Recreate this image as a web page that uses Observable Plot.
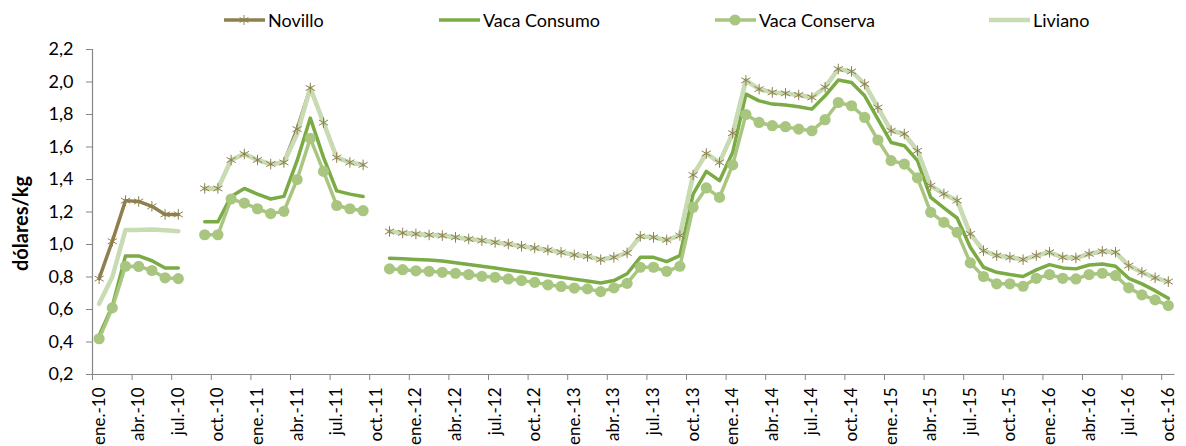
<!DOCTYPE html>
<html>
<head>
<meta charset="utf-8">
<script src="https://cdn.jsdelivr.net/npm/d3@7"></script>
<script src="https://cdn.jsdelivr.net/npm/@observablehq/plot@0.6"></script>
<style>
  html, body { margin: 0; padding: 0; background: #fff; }
  #legend { position: relative; width: 1186px; height: 36px; font-family: Lato, sans-serif; font-size: 18px; color: #000; }
  .item { position: absolute; top: 9px; height: 22px; display: flex; align-items: center; white-space: nowrap; }
  .item svg { margin-right: 3px; }
</style>
</head>
<body>
<div id="legend"></div>
<div id="chart"></div>
<script>
// Tick labels shown on the category axis (every 3rd month, ene.-10 ... oct.-16)
const tickLabels = [
  "ene.-10","abr.-10","jul.-10","oct.-10",
  "ene.-11","abr.-11","jul.-11","oct.-11",
  "ene.-12","abr.-12","jul.-12","oct.-12",
  "ene.-13","abr.-13","jul.-13","oct.-13",
  "ene.-14","abr.-14","jul.-14","oct.-14",
  "ene.-15","abr.-15","jul.-15","oct.-15",
  "ene.-16","abr.-16","jul.-16","oct.-16"
];
const monthNames = ["ene","feb","mar","abr","may","jun","jul","ago","sep","oct","nov","dic"];
const years = ["10","11","12","13","14","15","16"];
const seriesNames = ["Novillo","Vaca Consumo","Vaca Conserva","Liviano"];
const yTicks = [0.2,0.4,0.6,0.8,1.0,1.2,1.4,1.6,1.8,2.0,2.2];

// Monthly values, ene-10 ... oct-16 (null = no data)
const novillo = [
  0.79,1.02,1.27,1.265,1.235,1.185,1.185,null,
  1.345,1.345,1.52,1.557,1.52,1.495,1.505,1.71,1.963,1.75,1.535,1.505,1.49,null,
  1.08,1.071,1.065,1.059,1.055,1.044,1.034,1.024,1.013,1.003,0.989,0.979,0.966,0.952,0.936,0.927,0.907,0.921,0.948,1.05,1.044,1.028,1.055,1.428,1.56,1.505,1.685,2.01,1.956,1.936,
  1.93,1.92,1.905,1.968,2.08,2.065,1.987,1.843,1.70,1.68,1.577,1.362,1.311,1.27,1.065,0.962,0.932,0.921,0.907,0.932,0.952,0.921,0.917,0.942,0.958,0.952,0.87,0.829,0.795,0.772
];
const vacaConsumo = [
  0.44,0.62,0.93,0.93,0.90,0.855,0.855,null,
  1.14,1.14,1.296,1.345,1.31,1.28,1.296,1.516,1.778,1.536,1.33,1.31,1.295,null,
  0.916,0.912,0.908,0.904,0.899,0.888,0.877,0.866,0.855,0.843,0.832,0.821,0.81,0.798,0.787,0.775,0.763,0.778,0.82,0.921,0.921,0.895,0.932,1.31,1.45,1.393,1.567,1.925,1.884,1.864,
  1.858,1.848,1.833,1.915,2.012,1.997,1.915,1.772,1.628,1.608,1.516,1.29,1.225,1.163,0.983,0.86,0.829,0.815,0.803,0.844,0.876,0.856,0.85,0.874,0.88,0.866,0.792,0.758,0.716,0.669
];
const vacaConserva = [
  0.42,0.61,0.866,0.865,0.84,0.795,0.79,null,
  1.06,1.06,1.28,1.255,1.22,1.19,1.204,1.40,1.653,1.45,1.24,1.22,1.208,null,
  0.85,0.845,0.838,0.835,0.829,0.823,0.815,0.804,0.798,0.788,0.778,0.767,0.752,0.742,0.732,0.727,0.71,0.733,0.761,0.86,0.86,0.835,0.866,1.229,1.348,1.29,1.49,1.80,1.751,1.731,
  1.725,1.71,1.70,1.768,1.874,1.854,1.782,1.643,1.516,1.495,1.41,1.198,1.136,1.075,0.887,0.803,0.758,0.758,0.743,0.792,0.815,0.792,0.788,0.815,0.823,0.809,0.733,0.69,0.659,0.624
];
const liviano = [
  0.635,0.80,1.09,1.09,1.092,1.087,1.082,null,
  1.345,1.345,1.52,1.557,1.52,1.495,1.505,1.68,1.963,1.75,1.535,1.505,1.49,null,
  1.08,1.071,1.065,1.059,1.055,1.044,1.034,1.024,1.013,1.003,0.989,0.979,0.966,0.952,0.936,0.927,0.907,0.921,0.948,1.05,1.044,1.028,1.055,1.428,1.56,1.505,1.685,2.01,1.956,1.936,
  1.93,1.92,1.905,1.968,2.08,2.065,1.987,1.843,1.70,1.68,1.577,1.362,1.311,1.27,1.065,0.962,0.932,0.921,0.907,0.932,0.952,0.921,0.917,0.942,0.958,0.952,0.87,0.829,0.795,0.772
];

const colors = { novillo: "#8e7f4e", consumo: "#7aab45", conserva: "#a9c680", liviano: "#c8dbb3" };

const months = years.flatMap(y => monthNames.map(m => `${m}.-${y}`)).slice(0, 82);
const rows = (vals) => months.map((m, i) => ({ i: i + 0.5, month: m, v: vals[i] }));
const rNov = rows(novillo), rCon = rows(vacaConsumo), rCons = rows(vacaConserva), rLiv = rows(liviano);
const defined = r => r.filter(d => d.v != null);

const tickPos = tickLabels.map((_, k) => 3 * k);
const labelPos = tickLabels.map((_, k) => 3 * k + 0.5);
const fmt = d => d.toFixed(1).replace(".", ",");

const chart = Plot.plot({
  width: 1186,
  height: 410,
  marginLeft: 92,
  marginRight: 11.6,
  marginTop: 13,
  marginBottom: 72,
  style: { fontFamily: "Lato, sans-serif", fontSize: "18px", color: "#000", background: "#fff" },
  x: { type: "linear", domain: [0, months.length], axis: null },
  y: { domain: [0.2, 2.2], axis: null },
  marks: [
    Plot.axisY({ ticks: yTicks, tickFormat: fmt, tickSize: 6, tickPadding: 13, stroke: "#868686", fontSize: 18, color: "#000", label: null }),
    Plot.axisX({ ticks: tickPos, tickFormat: () => "", tickSize: 6, stroke: "#868686", label: null }),
    Plot.axisX({ ticks: labelPos, tickFormat: d => tickLabels[Math.round((d - 0.5) / 3)], tickSize: 0, tickPadding: 13, tickRotate: -90, fontSize: 17, label: null }),
    Plot.ruleX([0], { stroke: "#868686", strokeWidth: 1.2 }),
    Plot.ruleY([0.2], { x1: 0, x2: months.length, stroke: "#868686", strokeWidth: 1.2 }),
    Plot.text(["dólares/kg"], { frameAnchor: "left", textAnchor: "middle", lineAnchor: "middle", dx: -70.5, dy: 11.5, rotate: -90, fontWeight: "bold", fontSize: 20, fill: "#000" }),
    Plot.line(rNov, { x: "i", y: "v", stroke: colors.novillo, strokeWidth: 3.5 }),
    Plot.line(rCon, { x: "i", y: "v", stroke: colors.consumo, strokeWidth: 3.5 }),
    Plot.line(rCons, { x: "i", y: "v", stroke: colors.conserva, strokeWidth: 3.5 }),
    Plot.line(rLiv, { x: "i", y: "v", stroke: colors.liviano, strokeWidth: 4.5 }),
    Plot.dot(defined(rCons), { x: "i", y: "v", r: 5.6, fill: colors.conserva, stroke: "none" }),
    Plot.dot(defined(rNov), { x: "i", y: "v", symbol: "asterisk", r: 5, stroke: colors.novillo, strokeWidth: 1 })
  ]
});
document.getElementById("chart").appendChild(chart);

// Legend
const legendItems = [
  { name: seriesNames[0], left: 224, color: colors.novillo, marker: "star" },
  { name: seriesNames[1], left: 439, color: colors.consumo, marker: null },
  { name: seriesNames[2], left: 715, color: colors.conserva, marker: "dot" },
  { name: seriesNames[3], left: 989, color: colors.liviano, marker: null }
];
const legend = document.getElementById("legend");
for (const it of legendItems) {
  const div = document.createElement("div");
  div.className = "item";
  div.style.left = it.left + "px";
  let mk = "";
  if (it.marker === "dot") mk = `<circle cx="20" cy="8" r="5.6" fill="${it.color}"/>`;
  if (it.marker === "star") {
    const s = 5, c = it.color;
    mk = `<g stroke="${c}" stroke-width="1"><line x1="20" y1="${8-s}" x2="20" y2="${8+s}"/><line x1="${20-s*0.87}" y1="${8-s/2}" x2="${20+s*0.87}" y2="${8+s/2}"/><line x1="${20-s*0.87}" y1="${8+s/2}" x2="${20+s*0.87}" y2="${8-s/2}"/></g>`;
  }
  div.innerHTML = `<svg width="41" height="16"><line x1="0" y1="8" x2="41" y2="8" stroke="${it.color}" stroke-width="${it.name === "Liviano" ? 4.5 : 3.5}"/>${mk}</svg><span>${it.name}</span>`;
  legend.appendChild(div);
}
</script>
</body>
</html>
